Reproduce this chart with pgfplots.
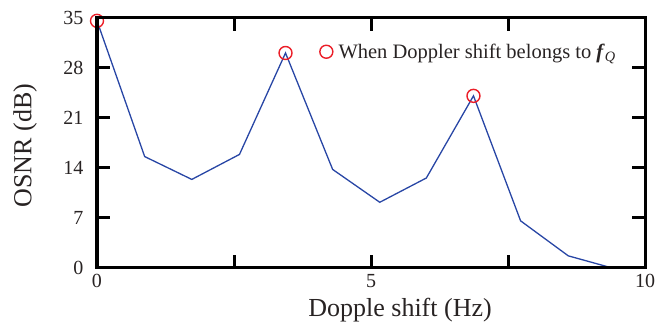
\documentclass[border=0pt]{standalone}
\usepackage{fontspec}
\setmainfont{Liberation Serif}
\usepackage{pgfplots}
\pgfplotsset{compat=1.18}
\definecolor{lineblue}{RGB}{40,70,165}
\definecolor{mkred}{RGB}{235,30,40}
\definecolor{txt}{RGB}{40,35,35}
\begin{document}
\begin{tikzpicture}
\begin{axis}[
  scale only axis,
  width=548bp, height=250bp,
  xmin=0, xmax=10, ymin=0, ymax=35,
  xtick={0,2.5,5,7.5,10}, xticklabels={0,,5,,10},
  ytick={0,7,14,21,28,35},
  xtick pos=both, ytick pos=both,
  xticklabel pos=bottom, yticklabel pos=left,
  tick align=inside,
  major tick length=13bp,
  axis line style={line width=3bp},
  major tick style={black, line width=3bp},
  /pgf/number format/assume math mode=true,
  tick label style={font=\fontsize{20bp}{22bp}\selectfont, text=txt},
  xticklabel style={yshift=-3bp},
  yticklabel style={xshift=-10bp},
  xlabel={Dopple shift (Hz)}, ylabel={OSNR (dB)},
  label style={font=\fontsize{26bp}{28bp}\selectfont, text=txt},
  xlabel style={at={(axis description cs:0.553,-0.196)}, anchor=base},
  ylabel style={at={(axis description cs:-0.131,0.49)}, anchor=center},
  clip=false,
  legend style={draw=none, fill=none, at={(rel axis cs:0.405,0.865)}, anchor=west,
    font=\fontsize{20.5bp}{22bp}\selectfont, text=txt, inner sep=0pt,
    legend cell align=left},
  legend image code/.code={\draw[mkred, line width=1.4bp] (0cm,0cm) circle (6.5bp);},
]
\addplot[lineblue, line width=1.3bp, forget plot] coordinates {
 (0,34.6) (0.87,15.6) (1.73,12.4) (2.6,15.9) (3.44,30.1) (4.3,13.8)
 (5.16,9.2) (6.01,12.6) (6.87,24.1) (7.73,6.6) (8.6,1.7) (9.4,0)
};
\addplot[only marks, mark=o, mark size=6.5bp, mkred, mark options={line width=1.4bp}] coordinates {
 (0,34.6) (3.44,30.1) (6.87,24.1)
};
\addlegendentry{\hspace{3bp}When Doppler shift belongs to \textbf{\textit{f}}\textsubscript{\textit{Q}}}
\end{axis}
\draw[line width=3bp] (current axis.south west) rectangle (current axis.north east);
\pgfresetboundingbox
\path (current axis.south west) ++(-97bp,-54bp) coordinate (bbA);
\path (current axis.north east) ++(24bp,18bp) coordinate (bbB);
\path[use as bounding box] (bbA) rectangle (bbB);
\end{tikzpicture}
\end{document}
